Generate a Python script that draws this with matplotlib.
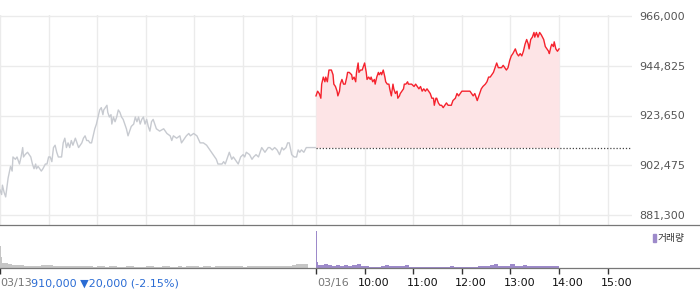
import numpy as np
import matplotlib
matplotlib.use('Agg')
import matplotlib.pyplot as plt
from matplotlib.patches import Rectangle

plt.rcParams['font.family'] = ['DejaVu Sans', 'Noto Sans CJK KR']

# 전일(03/13) 분봉: 09:00 기준 경과 분 / 가격
prev_min = [
    0, 2, 3, 5, 7, 10, 13, 15, 16, 19,
    21, 23, 24, 26, 28, 29, 31, 34, 36, 38,
    40, 42, 44, 45, 47, 49, 51, 53, 56, 58,
    60, 62, 64, 66, 68, 70, 72, 74, 76, 78,
    80, 82, 84, 86, 88, 90, 93, 95, 97, 99,
    101, 103, 105, 107, 109, 111, 113, 115, 117, 119,
    121, 123, 125, 127, 128, 130, 132, 133, 135, 137,
    138, 140, 142, 144, 146, 148, 150, 152, 154, 156,
    158, 160, 162, 165, 167, 169, 171, 173, 175, 177,
    179, 181, 183, 185, 187, 189, 191, 193, 197, 202,
    206, 210, 212, 214, 218, 222, 224, 226, 230, 233,
    235, 239, 243, 247, 251, 255, 259, 263, 267, 269,
    274, 276, 278, 280, 283, 286, 288, 292, 294, 297,
    300, 302, 304, 308, 311, 313, 316, 319, 321, 323,
    327, 331, 333, 336, 339, 342, 345, 348, 350, 353,
    355, 357, 360, 363, 366, 368, 370, 372, 375, 378,
    380, 385, 389,
]
prev_price = [
    892000, 890000, 894000, 891000, 889000, 897000, 902000, 900000, 906000, 905000,
    906000, 904000, 903000, 906000, 910000, 906000, 907000, 908000, 907000, 906000,
    903000, 901000, 903000, 901000, 902000, 901000, 900000, 901000, 903000, 903000,
    906000, 906000, 904000, 910000, 911000, 908000, 906000, 906000, 906000, 912000,
    914000, 910000, 912000, 910000, 913000, 911000, 914000, 912000, 910000, 911000,
    912000, 914000, 915000, 913000, 913000, 912000, 912000, 915000, 918000, 920000,
    923000, 926000, 927000, 924000, 926000, 927000, 928000, 925000, 923000, 924000,
    920000, 923000, 921000, 923000, 926000, 925000, 923000, 922000, 920000, 918000,
    915000, 917000, 919000, 920000, 923000, 921000, 923000, 920000, 922000, 923000,
    920000, 922000, 919000, 917000, 921000, 922000, 920000, 918000, 917000, 918000,
    916000, 915000, 913000, 915000, 914000, 915000, 912000, 913000, 915000, 916000,
    915000, 916000, 915000, 912000, 912000, 911000, 909000, 907000, 905000, 903000,
    903000, 904000, 903000, 905000, 908000, 905000, 906000, 904000, 903000, 906000,
    907000, 906000, 908000, 907000, 905000, 906000, 907000, 906000, 908000, 910000,
    908000, 910000, 910000, 909000, 910000, 909000, 907000, 910000, 909000, 910000,
    912000, 912000, 907000, 906000, 906000, 909000, 908000, 909000, 908000, 910000,
    910000, 910000, 910000,
]

# 당일(03/16) 분봉
today_min = [
    0, 2, 4, 6, 7, 9, 11, 12, 14, 16,
    18, 19, 21, 22, 24, 26, 27, 29, 30, 32,
    34, 36, 38, 39, 41, 44, 45, 47, 49, 50,
    52, 53, 55, 57, 58, 60, 62, 63, 65, 67,
    68, 70, 72, 73, 75, 77, 78, 80, 81, 83,
    85, 86, 88, 90, 91, 93, 95, 96, 98, 100,
    101, 103, 104, 106, 108, 109, 111, 113, 114, 116,
    118, 121, 123, 125, 127, 129, 131, 133, 135, 137,
    139, 141, 143, 145, 146, 148,
    149, 151, 153, 155, 157, 159, 161, 163, 165, 167,
    169, 172, 174, 176, 178, 180, 182, 184, 186, 188,
    190, 192, 194, 196, 198, 199, 201, 203, 204, 206,
    209, 211, 213, 215, 217, 219, 221, 223, 225, 227,
    229, 231, 233, 235, 237, 239, 241, 243, 246, 248,
    250, 252, 254, 256, 258, 260, 262, 263, 265, 267,
    269, 270, 272, 274, 276, 278, 281, 283, 285, 287,
    288, 290, 291, 293, 294, 296, 298, 300,
]
today_price = [
    932000, 934000, 933000, 931000, 937000, 940000, 938000, 940000, 938000, 943000,
    943000, 943000, 941000, 937000, 936000, 934000, 932000, 934000, 937000, 939000,
    937000, 937000, 940000, 942000, 942000, 941000, 939000, 940000, 938000, 942000,
    946000, 942000, 943000, 943000, 944000, 946000, 942000, 939000, 940000, 939000,
    940000, 938000, 939000, 937000, 940000, 942000, 941000, 942000, 941000, 943000,
    940000, 938000, 937000, 937000, 935000, 932000, 937000, 935000, 933000, 934000,
    931000, 932000, 933000, 934000, 935000, 937000, 937000, 938000, 937000, 937000,
    937000, 936000, 937000, 936000, 935000, 936000, 934000, 935000, 934000, 935000,
    934000, 933000, 931000, 931000, 928000, 931000,
    931000, 929000, 928000, 928000, 927000, 928000, 929000, 928000, 928000, 928000,
    930000, 931000, 933000, 932000, 933000, 934000, 934000, 934000, 934000, 934000,
    934000, 933000, 932000, 933000, 931000, 930000, 932000, 934000, 935000, 936000,
    937000, 938000, 940000, 940000, 941000, 942000, 944000, 946000, 944000, 944000,
    944000, 945000, 944000, 943000, 944000, 947000, 949000, 950000, 952000, 950000,
    949000, 950000, 949000, 951000, 954000, 956000, 954000, 952000, 956000, 957000,
    959000, 957000, 959000, 957000, 959000, 958000, 956000, 953000, 952000, 951000,
    950000, 953000, 954000, 953000, 955000, 952000, 951000, 952000,
]

prev_close = 910000
price_ticks = [881300, 902475, 923650, 944825, 966000]

# 거래량 (구간 시작 분 / 거래량)
prev_vol_min = [
    0, 1, 3, 5, 10, 15, 20, 25, 30, 35, 40, 45, 50, 55, 60, 65, 70, 75,
    80, 85, 90, 95, 100, 105, 110, 115, 120, 125, 130, 135, 140, 145, 150,
    155, 160, 165, 170, 175, 180, 185, 190, 195, 200, 205, 210, 215, 220,
    225, 230, 235, 240, 245, 250, 255, 260, 265, 270, 275, 280, 285, 290,
    295, 300, 305, 310, 315, 320, 325, 330, 335, 340, 345, 350, 355, 360,
    365, 370, 375,
]
prev_vol = [
    4340, 2140, 1000, 900, 700, 550, 540, 470, 460, 350, 340, 340, 500, 540, 500, 450, 330, 330,
    330, 460, 300, 280, 280, 300, 320, 260, 300, 280, 260, 300, 280, 240, 260,
    280, 300, 240, 220, 260, 280, 300, 260, 240, 280, 300, 260, 240, 280,
    260, 300, 320, 280, 260, 300, 280, 260, 300, 320, 280, 300, 320, 280,
    300, 260, 300, 320, 280, 300, 320, 300, 280, 320, 300, 340, 420, 600,
    700, 800, 700,
]
today_vol_min = [
    0, 1, 3, 5, 10, 15, 20, 25, 30, 35, 40, 45, 50, 55, 60, 65, 70, 75,
    80, 85, 90, 95, 100, 105, 110, 115, 120, 125, 130, 135, 140, 145, 150,
    155, 160, 165, 170, 175, 180, 185, 190, 195, 200, 205, 210, 215, 220,
    225, 230, 235, 240, 245, 250, 255, 260, 265, 270, 275, 280, 285, 290,
    295,
]
today_vol = [
    7340, 1140, 540, 650, 800, 600, 380, 550, 460, 480, 340, 500, 800, 300, 360, 260, 260, 260,
    280, 520, 340, 340, 300, 320, 480, 240, 220, 220, 200, 200, 200, 220, 220,
    200, 220, 420, 200, 220, 240, 220, 240, 260, 280, 300, 380, 560, 700,
    340, 320, 340, 700, 440, 300, 500, 340, 360, 340, 360, 320, 420, 300,
    300,
]

hour_labels = ['10:00', '11:00', '12:00', '13:00', '14:00', '15:00']


def plot_chart(out_file='out.png'):
    W, H = 700, 289
    day = 390          # 09:00 ~ 15:30
    x_end = 2 * day
    px = (price_ticks[-1] - price_ticks[0]) / 199.0   # 가격/픽셀

    fig = plt.figure(figsize=(W / 100, H / 100), dpi=100)
    ax = fig.add_axes([0, (H - 225) / H, 632 / W, 210 / H])
    axv = fig.add_axes([0, (H - 268.3) / H, 1.0, 43.3 / H])

    # 가격 차트
    ax.plot(prev_min, prev_price, color='#c7cad0', lw=1.0)
    tx = day + np.array(today_min)
    ax.fill_between(tx, today_price, prev_close, color='#fde4e6', lw=0)
    ax.plot(tx, today_price, color='#f5222d', lw=1.0)
    ax.hlines(prev_close, day, x_end, colors='#444444', linestyles=(0, (1, 1.5)), lw=0.9)

    ax.set_xlim(0, x_end)
    ax.set_ylim(price_ticks[0] - 10 * px, price_ticks[-1] + px)
    grid_x = [0, 60, 120, 180, 240, 300, 360, day] + [day + 60 * (i + 1) for i in range(6)]
    ax.set_xticks(grid_x)
    ax.set_yticks(price_ticks)
    ax.set_yticklabels([f'{v:,}' for v in price_ticks])
    ax.yaxis.tick_right()
    ax.tick_params(axis='x', length=0, labelbottom=False)
    ax.tick_params(axis='y', length=0, pad=5, labelsize=8, labelcolor='#555555')
    ax.grid(True, color='#ebebeb', lw=1.0)
    ax.set_axisbelow(True)
    for s in ax.spines.values():
        s.set_visible(False)

    # 거래량 차트 (막대가 바닥선 위에 오도록 아래쪽 여유 약간)
    pw = np.diff(prev_vol_min + [375 + 5])
    tw = np.diff(today_vol_min + [300])
    axv.bar(prev_vol_min, prev_vol, width=pw, align='edge', color='#c6c6c6', lw=0)
    axv.bar(day + np.array(today_vol_min), today_vol, width=tw, align='edge',
            color='#9d8aca', lw=0)
    axv.set_xlim(0, x_end * W / 632)
    axv.set_ylim(-100, 43.3 * 200 - 100)
    axv.set_yticks([])
    vt = [0, day] + [day + 60 * (i + 1) for i in range(6)]
    axv.set_xticks(vt)
    axv.tick_params(axis='x', direction='out', length=4.5, width=1, color='#333333',
                    labelbottom=False)
    for k in ('left', 'right'):
        axv.spines[k].set_visible(False)
    for k in ('top', 'bottom'):
        axv.spines[k].set_color('#777777')
        axv.spines[k].set_linewidth(0.9)

    # 하단 라벨
    kw = dict(xycoords=('data', 'axes fraction'), textcoords='offset pixels',
              va='center', fontsize=8)
    axv.annotate('03/13', xy=(0, 0), xytext=(0, -15), ha='left', color='#777777', **kw)
    axv.annotate('910,000 ▼20,000 (-2.15%)', xy=(0, 0), xytext=(31, -15), ha='left',
                 color='#2b6cd4', **kw)
    axv.annotate('03/16', xy=(day, 0), xytext=(1, -15), ha='left', color='#777777', **kw)
    for i, lab in enumerate(hour_labels):
        axv.annotate(lab, xy=(day + 60 * (i + 1), 0), xytext=(9, -15), ha='center',
                     color='#111111', **kw)

    # 범례
    fig.patches.append(Rectangle((653 / W, (H - 242) / H), 2.6 / W, 8 / H,
                                 transform=fig.transFigure, color='#9d8aca'))
    fig.text(657.5 / W, (H - 238) / H, '거래량', fontsize=7, va='center',
             color='#333333')

    fig.savefig(out_file, dpi=100)


if __name__ == "__main__":
    plot_chart('out.png')
